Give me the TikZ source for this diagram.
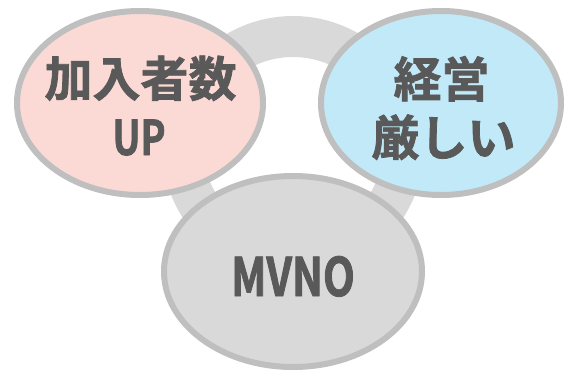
\documentclass[tikz,border=0pt]{standalone}
\usepackage{fontspec}
\usetikzlibrary{shapes.geometric}
\newfontfamily\jpfont{Noto Sans CJK JP}[BoldFont=* Bold,BoldFeatures={FakeBold=1.6}]
\newfontfamily\latfont{Noto Sans CJK JP}[FakeStretch=0.78,BoldFont=* Bold,BoldFeatures={FakeBold=1.6}]
\definecolor{ringgray}{HTML}{D9D9D9}
\definecolor{edgegray}{HTML}{BFBFBF}
\definecolor{pinkfill}{HTML}{FBDAD6}
\definecolor{bluefill}{HTML}{C1E9F8}
\definecolor{txtgray}{HTML}{595959}
\tikzset{
  bubble/.style={ellipse, draw=edgegray, line width=6pt, inner sep=0pt, outer sep=0pt},
  jptxt/.style={anchor=base, inner sep=0pt, text=txtgray, font=\jpfont\bfseries\fontsize{48}{58}\selectfont},
  lattxt/.style={anchor=base, inner sep=0pt, text=txtgray, font=\latfont\bfseries\fontsize{48}{58}\selectfont},
}
\begin{document}
\begin{tikzpicture}[x=1pt,y=1pt]
\useasboundingbox (0,0) rectangle (564,-372);
% ring behind
\node[circle, draw=ringgray, line width=41pt, minimum size=221pt, inner sep=0pt] (ring) at (293,-147) {};
% bubbles
\node[bubble, fill=pinkfill, minimum width=246pt, minimum height=184pt] (left) at (140,-103) {};
\node[bubble, fill=bluefill, minimum width=240pt, minimum height=184pt] (right) at (441,-103) {};
\node[bubble, fill=ringgray, minimum width=258pt, minimum height=191pt] (bottom) at (293,-271.5) {};
% texts
\node[jptxt] (l1) at (140.5,-96.5) {加入者数};
\node[lattxt] (l2) at (139,-155) {UP};
\node[jptxt] (r1) at (441.5,-97) {経営};
\node[jptxt] (r2) at (443.5,-155.5) {厳しい};
\node[lattxt, font=\latfont\bfseries\fontsize{53}{60}\selectfont] (b1) at (293,-296) {MVNO};
\end{tikzpicture}
\end{document}
